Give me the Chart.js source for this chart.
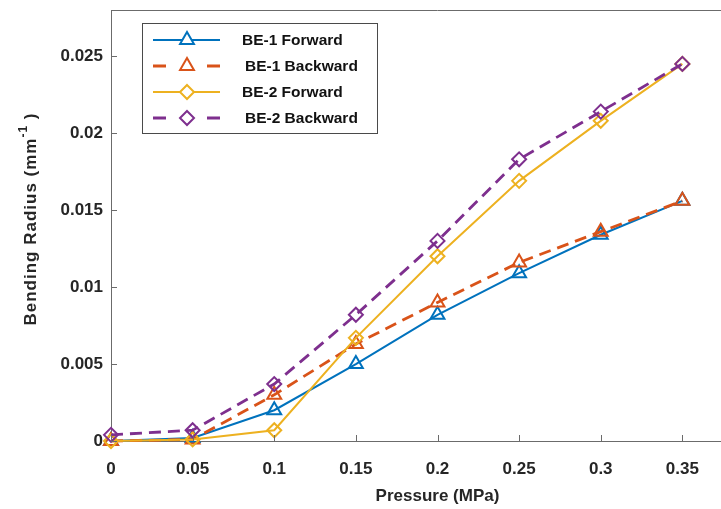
<!DOCTYPE html>
<html>
<head>
<meta charset="utf-8">
<script src="https://cdn.jsdelivr.net/npm/chart.js@4/dist/chart.umd.min.js"></script>
<style>
  html, body { margin: 0; padding: 0; background: #fff; }
  #wrap { width: 721px; height: 509px; overflow: hidden; position: relative; }
  canvas { display: block; }
</style>
</head>
<body>
<div id="wrap"><canvas id="grafico" width="774" height="509"></canvas></div>
<script>
// ── Dados ───────────────────────────────────────────────────────────────────
const pressao = [0, 0.05, 0.1, 0.15, 0.2, 0.25, 0.3, 0.35]
const be1Forward = [0, 0.0002, 0.002, 0.005, 0.0082, 0.0109, 0.0134, 0.0156]
const be1Backward = [0, 0.0001, 0.003, 0.0063, 0.009, 0.0116, 0.0136, 0.0156]
const be2Forward = [0, 0.0001, 0.0007, 0.0067, 0.012, 0.0169, 0.0208, 0.0245]
const be2Backward = [0.0004, 0.0007, 0.0037, 0.0082, 0.013, 0.0183, 0.0214, 0.0245]

const xTicks = [0, 0.05, 0.1, 0.15, 0.2, 0.25, 0.3, 0.35, 0.4]
const yTicks = [0, 0.005, 0.01, 0.015, 0.02, 0.025]

const FONTE = "'Liberation Sans', Arial, sans-serif"
const COR_EIXO = '#6b6b6b'
const COR_TEXTO = '#262626'

const pontos = (ys) => pressao.map((x, i) => ({ x, y: ys[i] }))

function serie(label, ys, cor, estilo, tracejado, ordem) {
  return {
    label,
    data: pontos(ys),
    borderColor: cor,
    backgroundColor: 'rgba(0,0,0,0)',
    borderWidth: tracejado ? 2.8 : 2,
    borderDash: tracejado ? [12, 7] : [],
    pointStyle: estilo,
    pointRadius: estilo === 'triangle' ? 8 : 7,
    pointBorderWidth: 2,
    pointBorderColor: cor,
    pointBackgroundColor: 'rgba(0,0,0,0)',
    tension: 0,
    fill: false,
    clip: false,
    order: ordem,
  }
}

// zera o padding automático que o Chart.js reserva para os rótulos
function semPadding(s) {
  s.paddingTop = 0
  s.paddingBottom = 0
  s.paddingLeft = 0
  s.paddingRight = 0
}

// ── Eixos, título Y e legenda desenhados à mão (estilo MATLAB) ──────────────
const estiloMatlab = {
  id: 'estiloMatlab',
  afterDatasetsDraw(chart) {
    const { ctx, chartArea, scales } = chart
    ctx.save()
    ctx.strokeStyle = COR_EIXO
    ctx.lineWidth = 1
    // borda superior
    ctx.beginPath()
    ctx.moveTo(chartArea.left, chartArea.top + 0.5)
    ctx.lineTo(chartArea.right, chartArea.top + 0.5)
    ctx.stroke()
    // ticks para dentro
    xTicks.forEach((v) => {
      const px = Math.round(scales.x.getPixelForValue(v)) + 0.5
      ctx.beginPath()
      ctx.moveTo(px, chartArea.bottom)
      ctx.lineTo(px, chartArea.bottom - 6)
      ctx.stroke()
    })
    yTicks.forEach((v) => {
      const py = Math.round(scales.y.getPixelForValue(v)) + 0.5
      ctx.beginPath()
      ctx.moveTo(chartArea.left, py)
      ctx.lineTo(chartArea.left + 6, py)
      ctx.stroke()
    })
    ctx.restore()

    // título do eixo Y com expoente de verdade
    const partes = [
      { t: 'Bending Radius (mm', tam: 17, dy: 0 },
      { t: '-1', tam: 12, dy: -7 },
      { t: ' )', tam: 17, dy: 0 },
    ]
    ctx.save()
    ctx.fillStyle = COR_TEXTO
    ctx.textBaseline = 'middle'
    if ('letterSpacing' in ctx) ctx.letterSpacing = '1px'
    const larguras = partes.map((p) => {
      ctx.font = `bold ${p.tam}px ${FONTE}`
      return ctx.measureText(p.t).width
    })
    const total = larguras.reduce((a, b) => a + b, 0)
    ctx.translate(31, 219)
    ctx.rotate(-Math.PI / 2)
    let x = -total / 2
    partes.forEach((p, i) => {
      ctx.font = `bold ${p.tam}px ${FONTE}`
      ctx.fillText(p.t, x, p.dy)
      x += larguras[i]
    })
    ctx.restore()
  },
  afterDraw(chart) {
    const { ctx } = chart
    const caixa = { x: 142, y: 23, w: 235, h: 110 }
    ctx.save()
    ctx.fillStyle = '#fff'
    ctx.fillRect(caixa.x, caixa.y, caixa.w, caixa.h)
    ctx.strokeStyle = '#4a4a4a'
    ctx.lineWidth = 1
    ctx.strokeRect(caixa.x + 0.5, caixa.y + 0.5, caixa.w, caixa.h)

    const linhasY = [40, 66, 92, 118]
    chart.data.datasets.forEach((ds, i) => {
      const y = linhasY[i]
      const cx = 187
      ctx.strokeStyle = ds.borderColor
      ctx.lineWidth = ds.borderDash.length ? 2.8 : 2
      ctx.beginPath()
      if (ds.borderDash.length) {
        ctx.moveTo(153, y); ctx.lineTo(166, y)
        ctx.moveTo(207, y); ctx.lineTo(220, y)
      } else {
        ctx.moveTo(153, y); ctx.lineTo(220, y)
      }
      ctx.stroke()
      // marcador
      ctx.lineWidth = 2
      ctx.fillStyle = '#fff'
      ctx.beginPath()
      const r = ds.pointRadius
      if (ds.pointStyle === 'triangle') {
        for (let k = 0; k < 3; k++) {
          const a = -Math.PI / 2 + (k * 2 * Math.PI) / 3
          const px = cx + Math.cos(a) * r
          const py = y + Math.sin(a) * r
          if (k === 0) ctx.moveTo(px, py)
          else ctx.lineTo(px, py)
        }
      } else {
        ctx.moveTo(cx, y - r); ctx.lineTo(cx + r, y)
        ctx.lineTo(cx, y + r); ctx.lineTo(cx - r, y)
      }
      ctx.closePath()
      ctx.fill()
      ctx.stroke()

      ctx.fillStyle = '#111'
      ctx.font = `bold 15.5px ${FONTE}`
      ctx.textBaseline = 'middle'
      ctx.fillText(ds.label, ds.label.includes('Backward') ? 245 : 242, y + 1)
    })
    ctx.restore()
  },
}

// ── Gráfico ─────────────────────────────────────────────────────────────────
new Chart(document.getElementById('grafico'), {
  type: 'line',
  data: {
    datasets: [
      serie('BE-1 Forward', be1Forward, '#0072BD', 'triangle', false, 4),
      serie('BE-1 Backward', be1Backward, '#D95319', 'triangle', true, 3),
      serie('BE-2 Forward', be2Forward, '#EDB120', 'rectRot', false, 2),
      serie('BE-2 Backward', be2Backward, '#7E2F8E', 'rectRot', true, 1),
    ],
  },
  options: {
    responsive: false,
    animation: false,
    layout: { padding: { top: 8, right: 6, left: 0, bottom: 0 } },
    plugins: {
      legend: { display: false },
      tooltip: { enabled: false },
    },
    scales: {
      x: {
        type: 'linear',
        min: 0,
        max: 0.4,
        afterBuildTicks: (s) => { s.ticks = xTicks.map((v) => ({ value: v })) },
        afterFit: (s) => { s.height = 68; semPadding(s) },
        grid: { display: false, drawTicks: false },
        border: { display: true, color: COR_EIXO, width: 1 },
        ticks: {
          padding: 18,
          maxRotation: 0,
          autoSkip: false,
          color: COR_TEXTO,
          font: { family: FONTE, size: 17, weight: 'bold' },
          callback: (v) => String(v),
        },
        title: {
          display: true,
          text: 'Pressure (MPa)',
          color: COR_TEXTO,
          padding: { top: 0, bottom: 2 },
          font: { family: FONTE, size: 17, weight: 'bold' },
        },
      },
      y: {
        type: 'linear',
        min: 0,
        max: 0.028,
        afterBuildTicks: (s) => { s.ticks = yTicks.map((v) => ({ value: v })) },
        afterFit: (s) => { s.width = 111; semPadding(s) },
        grid: { display: false, drawTicks: false },
        border: { display: true, color: COR_EIXO, width: 1 },
        ticks: {
          padding: 8,
          color: COR_TEXTO,
          font: { family: FONTE, size: 17, weight: 'bold' },
          callback: (v) => String(v),
        },
      },
    },
  },
  plugins: [estiloMatlab],
})
</script>
</body>
</html>
